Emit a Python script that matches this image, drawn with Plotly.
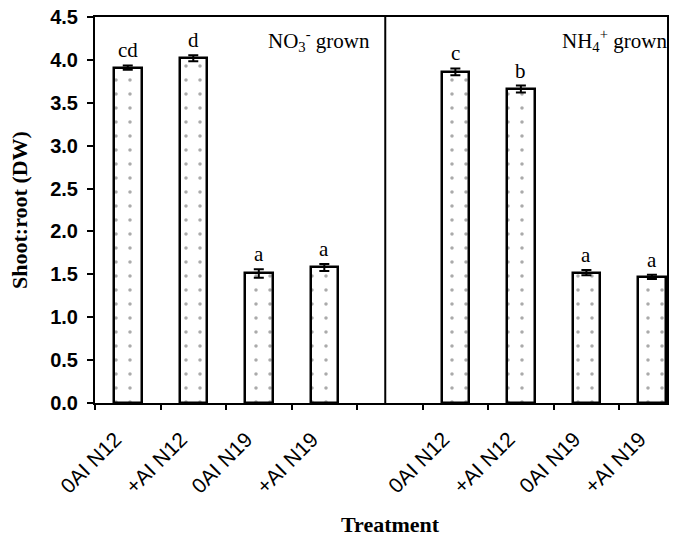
import plotly.graph_objects as go

# ---- data ----
treatments = ["0AI N12", "+AI N12", "0AI N19", "+AI N19"]
groups = ["NO3", "NH4"]
no3_values = [3.91, 4.02, 1.51, 1.58]
no3_errors = [0.025, 0.035, 0.05, 0.04]
no3_letters = ["cd", "d", "a", "a"]
nh4_values = [3.86, 3.66, 1.52, 1.47]
nh4_errors = [0.04, 0.04, 0.03, 0.025]
nh4_letters = ["c", "b", "a", "a"]
y_ticks = [0.0, 0.5, 1.0, 1.5, 2.0, 2.5, 3.0, 3.5, 4.0, 4.5]

# positions: 4 slots per group, one empty slot between groups
n = len(treatments)
x_no3 = [i + 0.5 for i in range(n)]
x_nh4 = [n + 1 + i + 0.5 for i in range(n)]
xs = x_no3 + x_nh4
vals = no3_values + nh4_values
errs = no3_errors + nh4_errors
letters = no3_letters + nh4_letters
labels = treatments + treatments

SERIF = "Liberation Serif, Times New Roman, serif"
SANS = "Liberation Sans, Arial, sans-serif"

fig = go.Figure()
fig.add_trace(go.Bar(
    x=xs, y=vals, width=0.42,
    marker=dict(color="white", line=dict(color="black", width=2.5),
                pattern=dict(shape=".", fgcolor="#555", bgcolor="white",
                             size=14, solidity=0.05)),
    error_y=dict(type="data", array=errs, color="black", thickness=2, width=5),
    showlegend=False,
))

# significance letters
for x, v, e, t in zip(xs, vals, errs, letters):
    fig.add_annotation(x=x, y=v + e, text=t, showarrow=False, yanchor="bottom",
                       yshift=1, font=dict(family=SERIF, size=21, color="black"))

# rotated category labels
for x, t in zip(xs, labels):
    fig.add_annotation(x=x, y=0, text=t, showarrow=False, textangle=-45,
                       xanchor="right", yanchor="top", xshift=1, yshift=-22,
                       font=dict(family=SANS, size=21, color="black"))

# group labels
fig.add_annotation(x=4.23, y=4.23, text="NO<sub>3</sub><sup>-</sup> grown", showarrow=False,
                   xanchor="right", yanchor="middle",
                   font=dict(family=SERIF, size=21, color="black"))
fig.add_annotation(x=1.004, y=0.94, xref="paper", yref="paper",
                   text="NH<sub>4</sub><sup>+</sup> grown", showarrow=False,
                   xanchor="right", yanchor="middle",
                   font=dict(family=SERIF, size=21, color="black"))

# divider between groups
fig.add_shape(type="line", x0=4.43, x1=4.43, y0=0, y1=4.5, xref="x", yref="y",
              line=dict(color="black", width=2))

# axis titles as annotations
fig.add_annotation(x=0.516, y=-0.316, xref="paper", yref="paper", text="<b>Treatment</b>",
                   showarrow=False, xanchor="center", yanchor="middle",
                   font=dict(family=SERIF, size=22, color="black"))
fig.add_annotation(x=-0.133, y=0.5, xref="paper", yref="paper", text="<b>Shoot:root (DW)</b>",
                   showarrow=False, textangle=-90, xanchor="center", yanchor="middle",
                   font=dict(family=SERIF, size=22, color="black"))

fig.update_layout(
    width=678, height=539,
    margin=dict(l=95, r=11, t=17, b=136, autoexpand=False),
    paper_bgcolor="white", plot_bgcolor="white",
    bargap=0,
)
fig.update_xaxes(
    automargin=False,
    range=[0, 8.73], tickmode="array", tickvals=list(range(0, 9)), showticklabels=False,
    ticks="outside", ticklen=5, tickwidth=1.5, tickcolor="black",
    showgrid=False, zeroline=False,
    showline=True, linecolor="black", linewidth=2, mirror=True,
)
fig.update_yaxes(
    automargin=False,
    range=[0, 4.5], tickmode="array", tickvals=y_ticks, tickformat=".1f",
    ticks="outside", ticklen=6, tickwidth=1.5, tickcolor="black",
    showgrid=False, zeroline=False,
    showline=True, linecolor="black", linewidth=2, mirror=True,
    tickfont=dict(family=SANS, size=20, color="black", weight="bold"),
    ticklabelstandoff=5, ticklabeloverflow="allow",
)

# remove the default page margin so the figure sits at the window's top-left corner
fig.write_html("out.html", config={"displayModeBar": False},
               post_script="document.body.style.margin='0';")
